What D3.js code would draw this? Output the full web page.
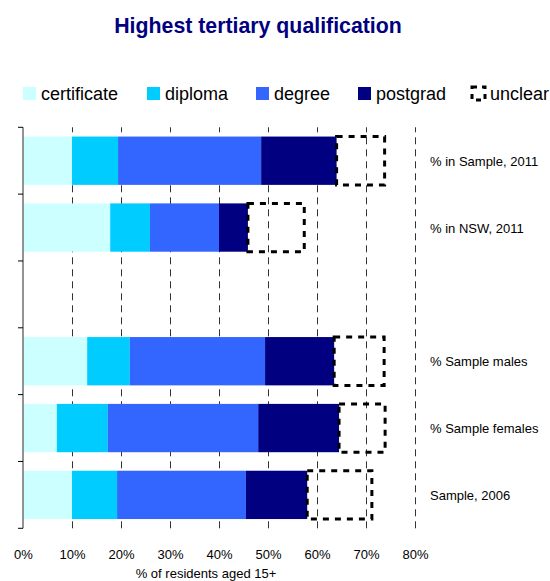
<!DOCTYPE html>
<html>
<head>
<meta charset="utf-8">
<script src="https://cdn.jsdelivr.net/npm/d3@7"></script>
<style>
  body { margin: 0; background: #fff; }
  svg { display: block; font-family: "Liberation Sans", Arial, Helvetica, sans-serif; }
</style>
</head>
<body>
<svg id="chart" width="550" height="581"></svg>
<script>
// Rows of the chart (the empty entry is a spacer row)
const categories = ["% in Sample, 2011", "% in NSW, 2011", "", "% Sample males", "% Sample females", "Sample, 2006"];
const seriesNames = ["certificate", "diploma", "degree", "postgrad", "unclear"];

// Percent of residents aged 15+ by highest tertiary qualification
const certificate = [10.0, 17.8, null, 13.1, 6.9, 10.0];
const diploma     = [9.4,  8.1,  null, 8.7, 10.4, 9.2];
const degree      = [29.2, 14.1, null, 27.6, 30.7, 26.3];
const postgrad    = [15.4, 5.9,  null, 14.1, 16.5, 12.5];
const unclear     = [9.8,  11.5, null, 10.2, 9.4, 13.2];

const xTicks = [0, 10, 20, 30, 40, 50, 60, 70, 80];
const xTickLabels = ["0%", "10%", "20%", "30%", "40%", "50%", "60%", "70%", "80%"];

const colors = {
  certificate: "#CCFFFF",
  diploma: "#00CCFF",
  degree: "#3366FF",
  postgrad: "#000080",
  unclear: "none"
};

const seriesValues = { certificate, diploma, degree, postgrad, unclear };

// Table for the stack layout: one record per non-empty row
const table = categories.map((c, i) => {
  const rec = { key: i, label: c };
  seriesNames.forEach(s => { rec[s] = seriesValues[s][i]; });
  return rec;
}).filter(r => r.certificate != null);

const svg = d3.select("#chart");

const x = d3.scaleLinear().domain([0, 80]).range([23, 415]);
const y = d3.scaleBand()
  .domain(categories.map((c, i) => i))
  .range([127.3, 528.3])
  .paddingInner(0.277)
  .paddingOuter(0.1385);

// Title
svg.append("text")
  .attr("x", 258).attr("y", 33)
  .attr("text-anchor", "middle")
  .attr("font-size", 21.3)
  .attr("font-weight", "bold")
  .attr("fill", "#000080")
  .text("Highest tertiary qualification");

// Legend
const legendX = [23, 147, 256, 358, 472];
const legend = svg.append("g").selectAll("g")
  .data(seriesNames)
  .join("g")
  .attr("transform", (d, i) => `translate(${legendX[i]},87)`);
legend.append("rect")
  .attr("width", 13).attr("height", 13)
  .attr("fill", d => d === "unclear" ? "none" : colors[d])
  .attr("stroke", d => d === "unclear" ? "#000" : "none")
  .attr("stroke-width", 3)
  .attr("stroke-dasharray", "5,5");
legend.append("text")
  .attr("x", 18).attr("y", 12.5)
  .attr("font-size", 18)
  .attr("fill", "#000")
  .text(d => d);

// Vertical dashed gridlines
const grid = svg.append("g")
  .attr("transform", "translate(0,528.3)")
  .call(d3.axisBottom(x).tickValues(xTicks.slice(1)).tickSize(-401).tickFormat(""));
grid.select(".domain").remove();
grid.selectAll(".tick line")
  .attr("stroke", "#333")
  .attr("stroke-width", 1)
  .attr("stroke-dasharray", "7,5");

// Stacked bars
const stack = d3.stack().keys(seriesNames);
const layers = stack(table);

const barLayer = svg.append("g");
layers.forEach(layer => {
  const name = layer.key;
  const g = barLayer.append("g");
  const rects = g.selectAll("rect")
    .data(layer)
    .join("rect")
    .attr("x", d => x(d[0]))
    .attr("y", d => y(d.data.key))
    .attr("width", d => x(d[1]) - x(d[0]))
    .attr("height", y.bandwidth());
  if (name === "unclear") {
    rects.attr("fill", "none")
      .attr("stroke", "#000")
      .attr("stroke-width", 3)
      .attr("stroke-dasharray", "6,6");
  } else {
    rects.attr("fill", colors[name]);
  }
});

// Left axis line with ticks at row boundaries
const y0 = y.range()[0];
svg.append("line")
  .attr("x1", 23).attr("x2", 23)
  .attr("y1", y0).attr("y2", y.range()[1])
  .attr("stroke", "#808080")
  .attr("stroke-width", 1.7);
svg.append("g").selectAll("line")
  .data(d3.range(categories.length + 1))
  .join("line")
  .attr("x1", 18).attr("x2", 23)
  .attr("y1", i => y0 + i * y.step())
  .attr("y2", i => y0 + i * y.step())
  .attr("stroke", "#000")
  .attr("stroke-width", 1);

// Row labels on the right
svg.append("g").selectAll("text")
  .data(categories.map((c, i) => ({ c, i })))
  .join("text")
  .attr("x", 430)
  .attr("y", d => y(d.i) + y.bandwidth() / 2 + 5)
  .attr("font-size", 13)
  .attr("fill", "#000")
  .text(d => d.c);

// Bottom tick labels
const xAxis = svg.append("g")
  .attr("transform", "translate(0,547)")
  .call(d3.axisBottom(x).tickValues(xTicks).tickSize(0).tickPadding(3)
    .tickFormat((d, i) => xTickLabels[i]));
xAxis.select(".domain").remove();
xAxis.selectAll("text")
  .attr("font-size", 13)
  .attr("font-family", "\"Liberation Sans\", Arial, sans-serif")
  .attr("fill", "#000");

// Axis title
svg.append("text")
  .attr("x", 206).attr("y", 578)
  .attr("text-anchor", "middle")
  .attr("font-size", 13)
  .attr("fill", "#000")
  .text("% of residents aged 15+");
</script>
</body>
</html>
